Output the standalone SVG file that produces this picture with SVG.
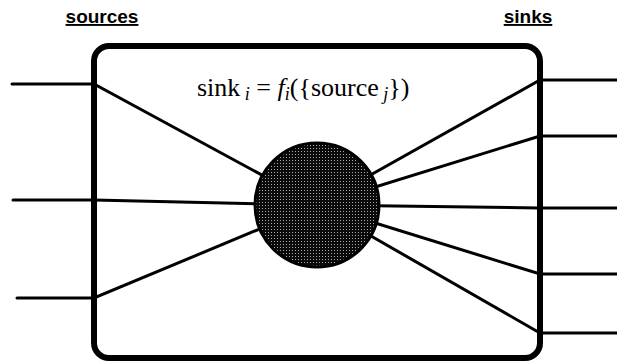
<svg xmlns="http://www.w3.org/2000/svg" width="617" height="362" viewBox="0 0 617 362">
<style>
.w{stroke:#000;stroke-width:3;fill:none;stroke-linecap:round}
.box{stroke:#000;stroke-width:6;fill:none}
.hd{font-family:"Liberation Sans",Arial,sans-serif;font-weight:bold;font-size:19px;text-decoration:underline}
.fm{font-family:"Liberation Serif","Times New Roman",serif;font-size:26px}
.sb{font-style:italic;font-size:18px}
</style>
<defs>
<pattern id="dots" width="3" height="3" patternUnits="userSpaceOnUse">
<rect width="3" height="3" fill="#0a0a0a"/>
<rect x="1" y="1" width="1" height="1" fill="#aaa"/>
</pattern>
</defs>
<text class="hd" x="102" y="23" text-anchor="middle">sources</text>
<text class="hd" x="528" y="23" text-anchor="middle">sinks</text>
<g id="connectors">
<path class="w" d="M12 84H94L317 205"/>
<path class="w" d="M13 200H94L317 205"/>
<path class="w" d="M17 298H94L317 205"/>
<path class="w" d="M617 80H540L317 205"/>
<path class="w" d="M617 136H540L317 205"/>
<path class="w" d="M617 208H540L317 205"/>
<path class="w" d="M617 274H540L317 205"/>
<path class="w" d="M617 333H540L317 205"/>
</g>
<g id="box">
<rect class="box" x="94" y="46" width="446" height="312" rx="15"/>
</g>
<g id="formula">
<text class="fm" x="197" y="96">sink<tspan class="sb" dy="4"> i</tspan><tspan dy="-4"> = </tspan><tspan font-style="italic">f</tspan><tspan class="sb" dy="4">i</tspan><tspan dy="-4">({source</tspan><tspan class="sb" dy="4"> j</tspan><tspan dy="-4">})</tspan></text>
</g>
<g id="node">
<circle cx="317" cy="205" r="62" fill="url(#dots)" stroke="#000" stroke-width="3"/>
</g>
</svg>
